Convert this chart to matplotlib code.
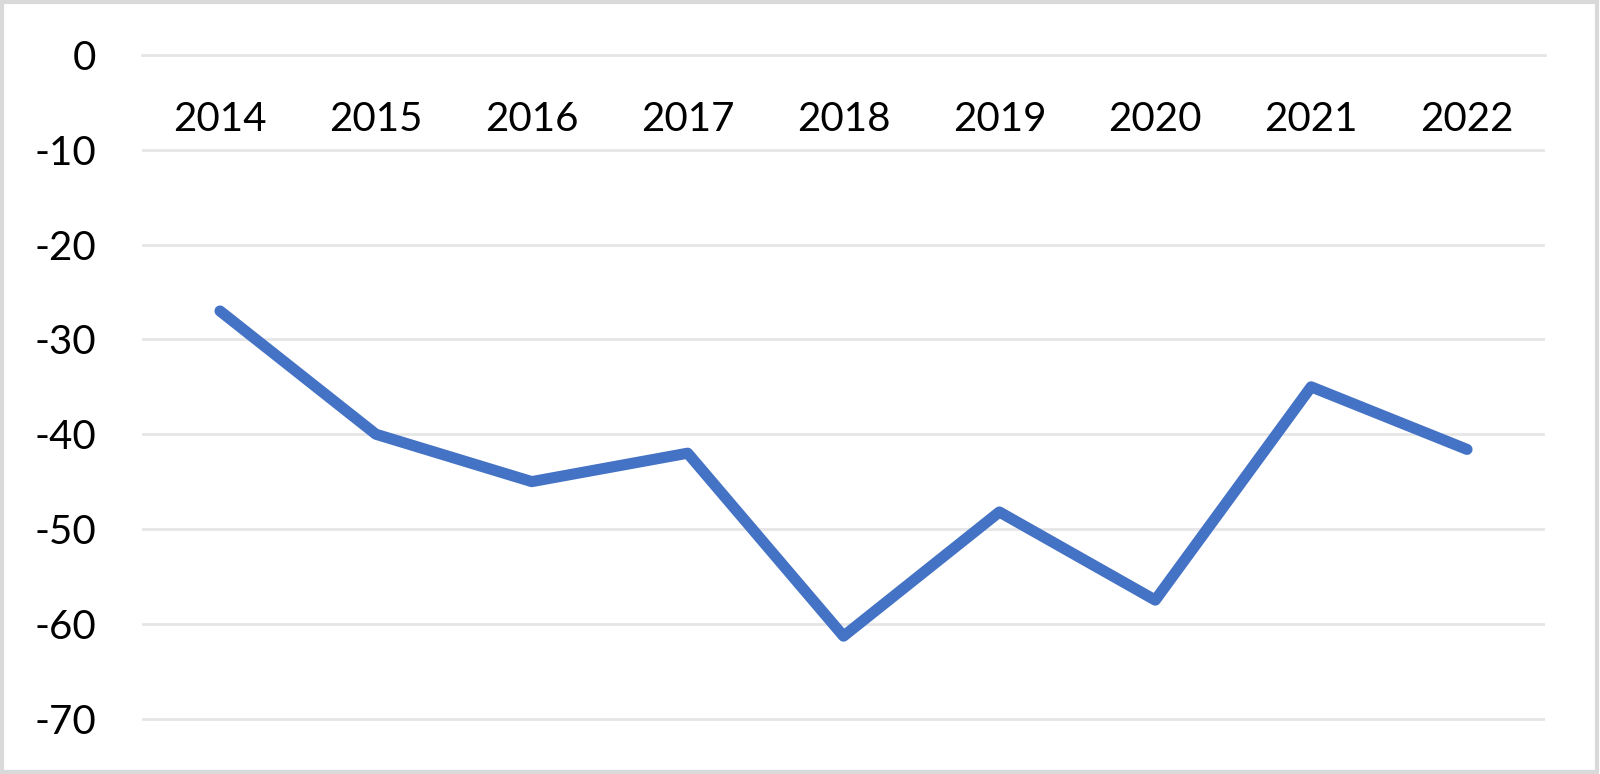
import matplotlib
matplotlib.use("Agg")
import matplotlib.pyplot as plt
from matplotlib.patches import Rectangle

plt.rcParams['font.family'] = ['Lato', 'DejaVu Sans']
plt.rcParams['axes.unicode_minus'] = False

years = ['2014', '2015', '2016', '2017', '2018', '2019', '2020', '2021', '2022']
values = [-27, -40, -45, -42, -61.3, -48.2, -57.5, -35, -41.6]
y_ticks = [0, -10, -20, -30, -40, -50, -60, -70]

fig = plt.figure(figsize=(16, 7.74), dpi=100)
ax = fig.add_axes([0.0888, 0.0103, 0.8768, 0.9186])

x = range(len(years))
ax.plot(x, values, color='#4472C4', lw=8, solid_capstyle='round', solid_joinstyle='round', zorder=3)

ax.set_xlim(-0.5, len(years) - 0.5)
ax.set_ylim(-75, 0)
ax.set_yticks(y_ticks)
ax.set_yticklabels([str(t) for t in y_ticks])
ax.tick_params(axis='y', length=0, pad=33, labelsize=29)
ax.set_xticks([])
ax.grid(axis='y', color='#E6E6E6', lw=2)
ax.set_axisbelow(True)
for s in ax.spines.values():
    s.set_visible(False)
ax.axhline(0, color='#E6E6E6', lw=2, zorder=1, clip_on=False)

# category labels sit just below the zero line
for i, yr in enumerate(years):
    ax.text(i, -6.8, yr, ha='center', va='center', fontsize=29)

fig.patches.append(Rectangle((0.001, 0.002), 0.997, 0.995, transform=fig.transFigure,
                             fill=False, edgecolor='#D9D9D9', lw=3))

fig.savefig('out.png', dpi=100)
